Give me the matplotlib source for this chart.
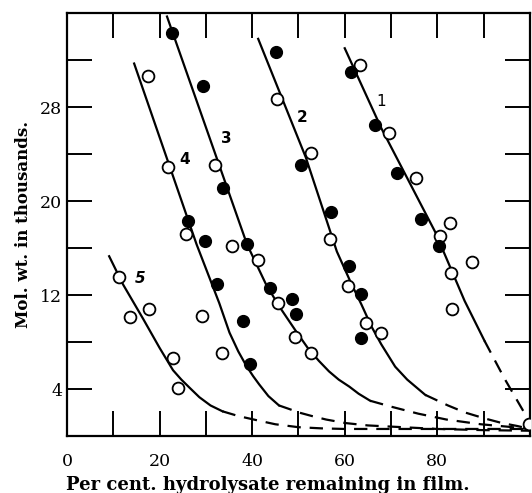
import matplotlib.pyplot as plt

# open / filled points for each curve (per cent remaining, mol. wt. in thousands)
open1_x = [63.4, 69.6, 75.4, 82.7, 80.6, 87.4, 83.0, 83.2, 99.8]
open1_y = [31.6, 25.8, 22.0, 18.1, 17.0, 14.8, 13.9, 10.8, 1.0]
fill1_x = [61.3, 66.6, 71.4, 76.5, 80.3]
fill1_y = [31.0, 26.5, 22.4, 18.5, 16.2]

open2_x = [45.4, 52.7, 56.8, 60.8, 64.7, 67.9]
open2_y = [28.7, 24.1, 16.8, 12.8, 9.6, 8.8]
fill2_x = [45.2, 50.5, 57.0, 61.0, 63.6, 63.6]
fill2_y = [32.7, 23.1, 19.1, 14.5, 12.1, 8.3]

open3_x = [31.9, 35.7, 41.3, 45.6, 49.2, 52.7]
open3_y = [23.1, 16.2, 15.0, 11.3, 8.4, 7.1]
fill3_x = [22.6, 29.3, 33.8, 38.9, 43.9, 48.6, 49.5]
fill3_y = [34.3, 29.8, 21.1, 16.3, 12.6, 11.7, 10.4]

open4_x = [17.5, 21.8, 25.8, 29.1, 33.4]
open4_y = [30.6, 22.9, 17.2, 10.2, 7.1]
fill4_x = [26.1, 29.9, 32.3, 38.1, 39.6]
fill4_y = [18.3, 16.6, 12.9, 9.8, 6.1]

open5_x = [11.3, 13.6, 17.7, 22.9, 24.0]
open5_y = [13.5, 10.1, 10.8, 6.6, 4.1]

# drawn curves: solid part then dashed extrapolation
line1_x = [60.0, 67.9, 79.5, 85.9, 90.2]
line1_y = [33.0, 26.2, 17.4, 11.5, 8.1]
dash1_x = [90.2, 94.5, 99.5, 100.0]
dash1_y = [8.1, 4.9, 1.5, 1.0]

line2_x = [41.3, 51.6, 58.3, 61.5, 63.6, 65.8, 67.9, 70.9, 73.5, 75.9, 77.4]
line2_y = [33.8, 23.7, 15.7, 12.9, 11.2, 9.3, 7.8, 5.9, 4.8, 4.0, 3.5]
dash2_x = [77.4, 82.3, 86.0, 90.2, 94.0, 97.3, 100.0]
dash2_y = [3.5, 2.6, 2.0, 1.5, 1.1, 0.85, 0.6]

line3_x = [21.6, 38.9, 43.0, 45.9, 49.5, 52.0, 54.4, 56.6, 58.7, 61.0, 63.0, 65.5]
line3_y = [35.7, 16.3, 12.9, 11.0, 8.9, 7.5, 6.4, 5.5, 4.8, 4.2, 3.6, 3.0]
dash3_x = [65.5, 70.0, 75.9, 82.0, 89.4, 95.0, 100.0]
dash3_y = [3.0, 2.5, 1.9, 1.4, 1.0, 0.8, 0.6]

line4_x = [14.5, 28.0, 32.9, 35.1, 37.0, 38.7, 40.2, 41.5, 43.5, 45.8]
line4_y = [31.7, 16.3, 11.3, 8.8, 7.2, 6.0, 5.1, 4.4, 3.4, 2.6]
dash4_x = [45.8, 48.0, 50.1, 52.9, 56.0, 60.2, 65.0, 70.0, 80.0, 90.0, 100.0]
dash4_y = [2.6, 2.3, 2.0, 1.7, 1.4, 1.1, 0.9, 0.8, 0.6, 0.5, 0.45]

line5_x = [9.1, 12.1, 16.4, 20.0, 22.9, 24.7, 26.5, 28.6, 31.0, 33.6]
line5_y = [15.3, 12.9, 10.0, 7.5, 5.6, 4.8, 4.1, 3.3, 2.6, 2.1]
dash5_x = [33.6, 37.0, 41.5, 45.0, 50.0, 55.0, 60.0, 100.0]
dash5_y = [2.1, 1.7, 1.3, 1.0, 0.75, 0.65, 0.6, 0.6]

curve_labels = ["1", "2", "3", "4", "5"]
label_x = [67.9, 50.8, 34.4, 25.4, 15.8]
label_y = [28.5, 27.1, 25.3, 23.5, 13.4]
label_style = ["normal", "normal", "normal", "normal", "italic"]
label_weight = ["normal", "bold", "bold", "bold", "bold"]

plt.rcParams["font.family"] = "DejaVu Serif"

fig = plt.figure(figsize=(5.32, 4.93), dpi=100)
ax = fig.add_axes([0.126, 0.1156, 0.870, 0.858])

solid = [(line1_x, line1_y), (line2_x, line2_y), (line3_x, line3_y),
         (line4_x, line4_y), (line5_x, line5_y)]
dashed = [(dash1_x, dash1_y), (dash2_x, dash2_y), (dash3_x, dash3_y),
          (dash4_x, dash4_y), (dash5_x, dash5_y)]
for lx, ly in solid:
    ax.plot(lx, ly, color="black", lw=1.6, zorder=2)
for lx, ly in dashed:
    ax.plot(lx, ly, color="black", lw=1.6, dashes=(6, 4), zorder=2)

for ox, oy in [(open1_x, open1_y), (open2_x, open2_y), (open3_x, open3_y),
               (open4_x, open4_y), (open5_x, open5_y)]:
    ax.plot(ox, oy, "o", ms=8.5, mfc="white", mec="black", mew=1.3, zorder=3)
for fx, fy in [(fill1_x, fill1_y), (fill2_x, fill2_y), (fill3_x, fill3_y),
               (fill4_x, fill4_y)]:
    ax.plot(fx, fy, "o", ms=8.5, mfc="black", mec="black", zorder=4)

for t, tx, ty, st, wt in zip(curve_labels, label_x, label_y, label_style,
                             label_weight):
    ax.text(tx, ty, t, fontsize=11, fontweight=wt, fontstyle=st,
            family="DejaVu Sans", ha="center", va="center")

ax.set_xlim(0, 100)
ax.set_ylim(0, 36)
ax.set_xticks([0, 20, 40, 60, 80])
ax.set_xticks([10, 30, 50, 70, 90], minor=True)
ax.set_yticks([4, 12, 20, 28])
ax.set_yticks([8, 16, 24, 32], minor=True)
ax.tick_params(which="both", direction="in", length=18, width=1.4,
               top=True, right=True, labelsize=12.5)
ax.tick_params(axis="x", pad=12)
for s in ax.spines.values():
    s.set_linewidth(1.6)

ax.set_xlabel("Per cent. hydrolysate remaining in film.", fontsize=13,
              fontweight="bold", labelpad=2)
ax.xaxis.set_label_coords(0.434, -0.095)
ax.set_ylabel("Mol. wt. in thousands.", fontsize=12, fontweight="bold",
              labelpad=6)

fig.savefig("out.png", dpi=100)
